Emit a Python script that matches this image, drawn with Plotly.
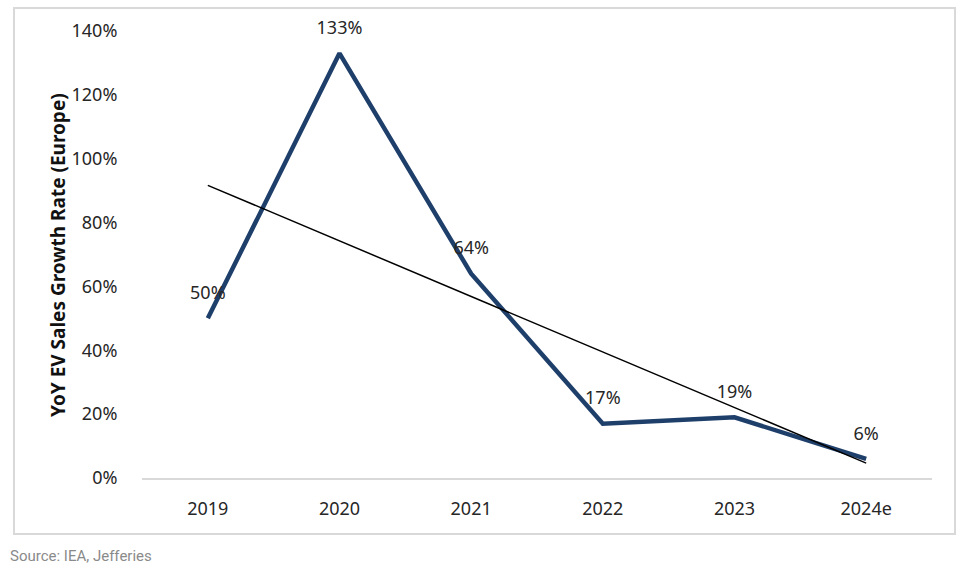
import numpy as np
import plotly.graph_objects as go

categories = ["2019", "2020", "2021", "2022", "2023", "2024e"]
growth = [50, 133, 64, 17, 19, 6]
labels = ["50%", "133%", "64%", "17%", "19%", "6%"]
y_ticks = [0, 20, 40, 60, 80, 100, 120, 140]
y_tick_text = ["0%", "20%", "40%", "60%", "80%", "100%", "120%", "140%"]

# linear trend line through the series
xi = np.arange(len(growth))
slope, intercept = np.polyfit(xi, growth, 1)
trend = list(slope * xi + intercept)

W, H = 968, 570
L, R, T, B = 142, 36, 31, 92
pw, ph = W - L - R, H - T - B

def px_x(p):
    return (p - L) / pw

def px_y(p):
    return (H - B - p) / ph

FONT = "Noto Sans"
TXT = "#262626"

fig = go.Figure()
fig.add_trace(go.Scatter(
    x=categories, y=growth, mode="lines+markers+text",
    line=dict(color="#1F3F6B", width=4.5),
    marker=dict(size=22, color="rgba(0,0,0,0)"),
    text=labels, textposition="top center",
    textfont=dict(family=FONT, size=18, color=TXT),
    cliponaxis=False, showlegend=False, hoverinfo="skip"))
fig.add_trace(go.Scatter(
    x=categories, y=trend, mode="lines",
    line=dict(color="#000000", width=1.5),
    showlegend=False, hoverinfo="skip"))

fig.update_layout(
    width=W, height=H,
    margin=dict(l=L, r=R, t=T, b=B),
    paper_bgcolor="white", plot_bgcolor="white",
    font=dict(family=FONT, size=18, color=TXT),
    xaxis=dict(type="category", range=[-0.5, 5.5], showgrid=False,
               showline=True, linecolor="#d9d9d9", linewidth=2,
               ticks="outside", ticklen=13, tickcolor="rgba(0,0,0,0)",
               tickfont=dict(family=FONT, size=18, color=TXT), zeroline=False),
    yaxis=dict(range=[0, 140], tickvals=y_ticks, ticktext=y_tick_text,
               showgrid=False, zeroline=False, showline=False,
               ticks="outside", ticklen=20, tickcolor="rgba(0,0,0,0)",
               tickfont=dict(family=FONT, size=18, color=TXT)),
    shapes=[dict(type="rect", xref="paper", yref="paper",
                 x0=px_x(14), x1=px_x(955), y0=px_y(534), y1=px_y(8),
                 line=dict(color="#d9d9d9", width=2), fillcolor="rgba(0,0,0,0)",
                 layer="below")],
    annotations=[
        dict(text="<b>YoY EV Sales Growth Rate (Europe)</b>", textangle=-90,
             xref="paper", yref="paper", x=px_x(58), y=px_y(255),
             showarrow=False, font=dict(family=FONT, size=19, color="#111111"),
             xanchor="center", yanchor="middle"),
        dict(text="Source: IEA, Jefferies", xref="paper", yref="paper",
             x=px_x(8), y=px_y(556), xanchor="left", yanchor="middle",
             showarrow=False, font=dict(family="Roboto", size=15, color="#8a8a8a")),
    ],
)

fig.write_html("out.html")
